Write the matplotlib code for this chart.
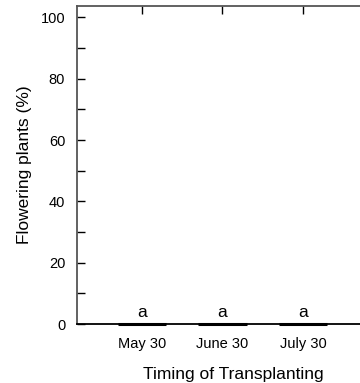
import numpy as np
import matplotlib.pyplot as plt
from matplotlib.ticker import MultipleLocator

# Veriler
timings = ["May 30", "June 30", "July 30"]
flowering = [0, 0, 0]
letters = ["a", "a", "a"]

plt.rcParams['font.family'] = ['Liberation Sans', 'DejaVu Sans']

fig = plt.figure(figsize=(3.6, 3.83), dpi=100)
ax = fig.add_axes([0.2139, 0.154, 0.8083, 0.831])

x = np.arange(len(timings))
ax.bar(x, flowering, width=0.6, color='black', edgecolor='black', linewidth=2.2, clip_on=False, zorder=3)

for xi, v, lab in zip(x, flowering, letters):
    ax.text(xi, v + 1.2, lab, ha='center', va='bottom', fontsize=12.5)

ax.set_xlim(-0.807, 2.807)
ax.set_ylim(0, 103.8)

ax.set_xticks(x)
ax.set_xticklabels(timings)
ax.tick_params(axis='x', which='both', bottom=False, top=True, direction='in', length=6, width=1, labelsize=10.5, pad=9, colors='black')
ax.yaxis.set_major_locator(MultipleLocator(20))
ax.yaxis.set_minor_locator(MultipleLocator(10))
ax.tick_params(axis='y', which='both', direction='in', length=6, width=1, labelsize=10.5, pad=8.5)

for side in ['left', 'top', 'bottom']:
    ax.spines[side].set_color('#555555')
    ax.spines[side].set_linewidth(1.3)
ax.spines['right'].set_visible(False)
ax.spines['bottom'].set_color('black')

ax.set_ylabel("Flowering plants (%)", fontsize=12.5)
ax.set_xlabel("Timing of Transplanting", fontsize=12.5)
ax.yaxis.set_label_coords(-0.155, 0.5)
ax.xaxis.set_label_coords(0.536, -0.135)

fig.savefig("out.png", dpi=100)
